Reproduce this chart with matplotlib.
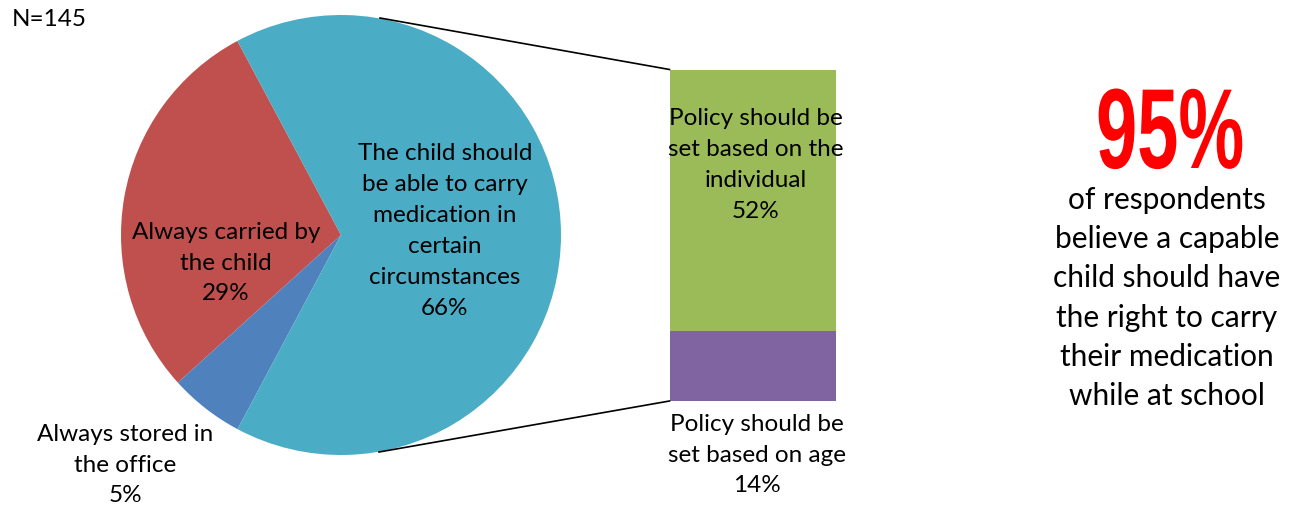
import matplotlib.pyplot as plt
from matplotlib.patheffects import AbstractPathEffect
from matplotlib.transforms import Affine2D

# pie data (share of respondents)
pie_labels = ["Always carried by\nthe child\n29%",
              "Always stored in\nthe office\n5%",
              "The child should\nbe able to carry\nmedication in\ncertain\ncircumstances\n66%"]
pie_values = [28.9, 5.5, 65.6]
pie_colors = ["#C0504D", "#4F81BD", "#4BACC6"]

# breakdown of the 66% slice
bar_labels = ["Policy should be\nset based on age\n14%",
              "Policy should be\nset based on the\nindividual\n52%"]
bar_values = [14, 52]
bar_colors = ["#8064A2", "#9BBB59"]


class Squeeze(AbstractPathEffect):
    """draw text glyphs narrower around their centre (condensed look)"""
    def __init__(self, sx):
        super().__init__()
        self.sx = sx

    def draw_path(self, renderer, gc, tpath, affine, rgbFace=None):
        ext = tpath.get_extents()
        mid = (ext.x0 + ext.x1) / 2
        sq = Affine2D().translate(-mid, 0).scale(self.sx, 1).translate(mid, 0)
        renderer.draw_path(gc, tpath, sq + affine, rgbFace)


W, H = 1296, 508
fig = plt.figure(figsize=(W / 100, H / 100), dpi=100)
ax = fig.add_axes([0, 0, 1, 1])
plt.rcParams['font.family'] = ['Lato', 'DejaVu Sans']
fs = 17.5
ls = 1.58

# pie, in pixel-like coords (y up)
cx, cy, r = 341, 273, 220
wedges, _ = ax.pie(pie_values, colors=pie_colors, startangle=118.1,
                   counterclock=True, center=(cx, cy), radius=r,
                   wedgeprops=dict(linewidth=0))

# stacked bar of the big slice
bx, bw = 752.5, 166
scale = 331 / 66
bottom = 107
for v, c in zip(bar_values, bar_colors):
    ax.bar(bx, v * scale, width=bw, bottom=bottom, color=c, linewidth=0)
    bottom += v * scale

# connector lines
ax.plot([380, bx - bw / 2], [490, 438.5], color="black", lw=1.2)
ax.plot([379, bx - bw / 2], [56, 107], color="black", lw=1.2)

# labels
def label(x, y, s):
    ax.text(x, 508 - y, s, ha="center", va="center", fontsize=fs, linespacing=ls)

label(445, 231, pie_labels[2])
label(226, 263, pie_labels[0])
label(125, 465, pie_labels[1])
label(756, 165, bar_labels[1])
label(757, 455, bar_labels[0])
ax.text(12, 508 - 20, "N=145", ha="left", va="center", fontsize=fs)

ax.text(1170, 508 - 168, "95%", ha="center", va="baseline", fontsize=82,
        color="#FF0000", fontweight="bold", family=["Liberation Sans"],
        path_effects=[Squeeze(0.65)])
ax.text(1167, 508 - 298,
        "of respondents\nbelieve a capable\nchild should have\nthe right to carry\ntheir medication\nwhile at school",
        ha="center", va="center", fontsize=21.5, linespacing=1.48)

ax.set_xlim(0, W)
ax.set_ylim(0, H)
ax.set_aspect("equal")
ax.set_axis_off()

plt.savefig("out.png", dpi=100)
